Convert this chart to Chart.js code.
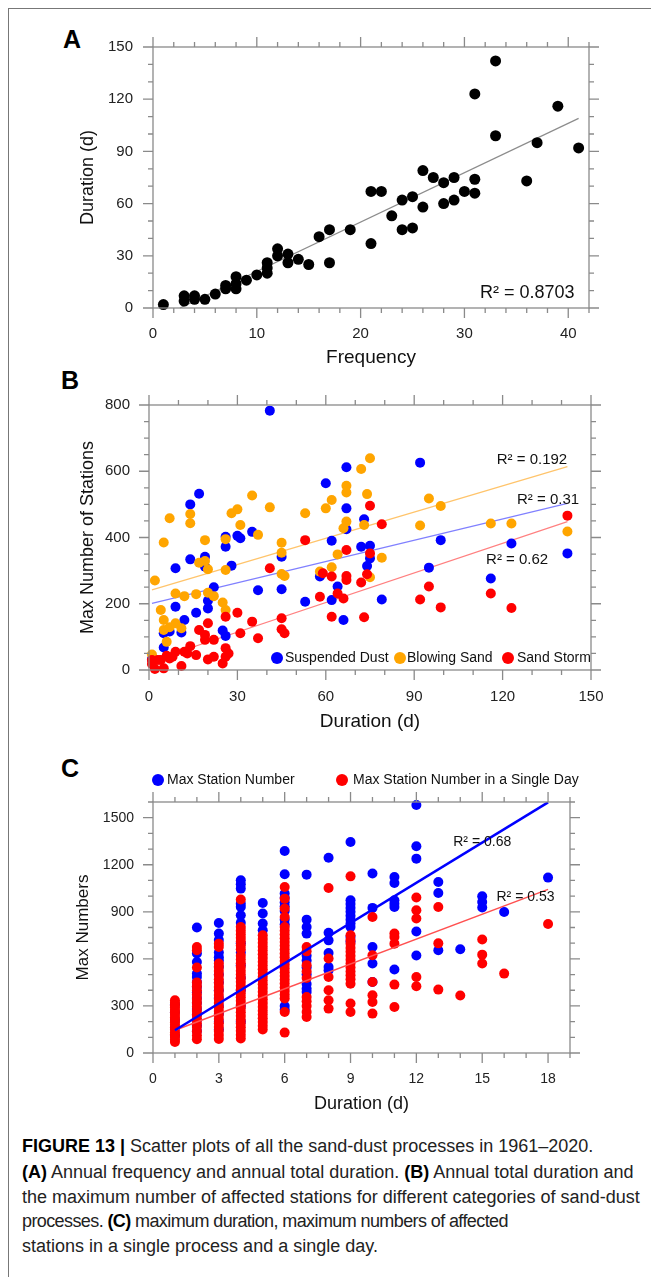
<!DOCTYPE html>
<html><head><meta charset="utf-8">
<script src="https://cdn.jsdelivr.net/npm/chart.js@4.4.1/dist/chart.umd.min.js"></script>
<style>
html,body{margin:0;padding:0;background:#fff;}
body{width:651px;height:1277px;position:relative;overflow:hidden;font-family:"Liberation Sans",Arial,sans-serif;}
canvas{position:absolute;left:0;}
.letter{position:absolute;font-weight:bold;font-size:25px;color:#000;line-height:25px;}
.btop{position:absolute;left:8px;top:8px;width:643px;height:0;border-top:1.5px solid #777;}
.bleft{position:absolute;left:8px;top:8px;width:0;height:1269px;border-left:1.5px solid #777;}
.cap{position:absolute;left:22px;font-family:"Liberation Sans Narrow","Liberation Sans",sans-serif;font-size:18px;color:#222;white-space:nowrap;line-height:25px;}
.cap b{color:#000;}
</style></head><body>
<div class="btop"></div><div class="bleft"></div>
<div class="letter" style="left:63px;top:27px">A</div>
<div class="letter" style="left:61px;top:368px">B</div>
<div class="letter" style="left:61px;top:756px">C</div>
<canvas id="cA" width="651" height="375" style="top:0"></canvas>
<canvas id="cB" width="651" height="370" style="top:375px"></canvas>
<canvas id="cC" width="651" height="380" style="top:745px"></canvas>
<div class="cap" style="top:1134px"><b>FIGURE 13 | </b>Scatter plots of all the sand-dust processes in 1961–2020.</div>
<div class="cap" style="top:1160px"><b>(A)</b> Annual frequency and annual total duration. <b>(B)</b> Annual total duration and</div>
<div class="cap" style="top:1185px">the maximum number of affected stations for different categories of sand-dust</div>
<div class="cap" style="top:1209px;letter-spacing:-0.6px">processes. <b>(C)</b> maximum duration, maximum numbers of affected</div>
<div class="cap" style="top:1234px">stations in a single process and a single day.</div>
<script>
// ---------- Panel A: annual frequency vs annual total duration ----------
const freqA = [1,3,3,4,4,5,6,7,7,8,8,8,9,10,11,11,11,12,12,13,13,14,15,16,17,17,19,21,21,22,23,24,24,25,25,26,26,27,28,28,29,29,30,31,31,31,33,33,36,37,39,41];
const durA  = [2,4,7,5,7,5,8,11,13,11,14,18,16,19,20,23,26,30,34,26,31,28,25,41,45,26,45,37,67,67,53,62,45,64,46,79,58,75,60,72,75,62,67,74,66,123,142,99,73,95,116,92];
const fitAx = [2.6, 41];
const fitAy = [0, 109];
const ticksAx = [0,10,20,30,40];
const ticksAy = [0,30,60,90,120,150];
const r2A = "R² = 0.8703";

// ---------- Panel B: annual total duration vs max number of stations ----------
const seriesB = ["Suspended Dust", "Blowing Sand", "Sand Storm"];
const sdDur = [1,5,5,7,9,9,11,12,14,14,16,17,19,19,20,20,22,25,26,26,26,28,30,31,35,37,41,45,45,53,58,60,62,62,64,66,67,67,67,72,73,74,75,75,79,92,95,99,116,123,142];
const sdMax = [32,68,111,116,191,307,113,151,334,500,173,532,342,312,209,186,250,119,103,402,372,315,405,398,417,241,783,342,244,206,282,564,390,211,252,151,612,488,425,372,455,314,375,337,213,626,309,392,276,382,352];
const bsDur = [1,2,4,5,5,5,6,7,7,9,9,11,12,14,14,16,17,19,19,20,20,22,25,26,26,26,28,30,31,35,37,41,45,45,45,46,53,58,60,62,62,64,66,67,67,67,72,73,74,75,75,79,92,95,99,116,123,142];
const bsMax = [47,270,181,151,121,385,85,129,458,231,141,126,223,471,443,229,324,392,329,304,233,223,204,181,395,302,473,485,438,527,408,491,384,354,290,284,473,297,488,513,310,349,428,556,536,448,607,438,531,639,280,339,436,518,495,442,442,418];
const ssDur = [1,1,2,3,4,5,6,7,8,9,11,12,13,14,16,17,19,19,20,20,22,22,25,26,26,26,27,30,31,35,37,41,45,45,46,53,58,59,62,62,64,66,67,67,67,72,73,74,75,75,79,92,95,99,116,123,142];
const ssMax = [18,30,3,30,30,5,43,35,40,55,12,55,50,72,45,121,106,91,141,32,91,40,20,161,66,40,50,173,111,146,96,307,156,123,111,392,221,292,282,161,231,216,362,284,272,264,159,289,496,352,440,213,252,189,231,187,466];
const fitBx = [1, 142];
const fitSd = [201, 503];
const fitBs = [242, 614];
const fitSs = [28, 448];
const ticksBx = [0,30,60,90,120,150];
const ticksBy = [0,200,400,600,800];
const r2B = ["R² = 0.31", "R² = 0.192", "R² = 0.62"];

// ---------- Panel C: maximum duration vs max numbers of stations ----------
const seriesC = ["Max Station Number", "Max Station Number in a Single Day"];
const durC = [1,2,3,4,5,6,7,8,9,10,11,12,13,14,15,16,18];
const maxStationC = [
  [110,160,210,260,310],
  [800,634,580,506,484,452,420,388,350,318,280,245,210,175,140],
  [829,761,720,640,610,590,550,500,450,400,350,300,250,200,150],
  [1101,1075,1048,952,931,878,830,700,640,560,480,400,300,200],
  [956,889,825,782],
  [1288,1139,1016,990,960,935,905,850,820,300,275],
  [1137,850,803,761,620,590,545,500,440,410,389],
  [1245,767,718,637,548,527],
  [1345,974,950,925,900,875,850,825,803,740,710],
  [1144,925,676,570,453],
  [1122,1084,973,952,931,532],
  [1581,1318,1239,774,621],
  [1090,1020,655],
  [661],
  [999,963,927],
  [899],
  [1118]
];
const maxDayC = [
  [70,85,102,118,131,149,163,180,196,211,228,243,259,274,290,305,321,336],
  [676,655,545,450,425,398,372,345,320,295,268,242,216,190,165,138,112,88],
  [697,676,570,548,522,497,470,446,420,395,370,344,318,292,268,242,216,190,165,140,114,90],
  [978,803,780,756,733,710,686,662,620,596,572,548,524,500,476,452,428,404,380,356,332,308,284,260,236,212,188,164,140,116,92],
  [750,726,702,678,654,630,606,582,558,534,510,486,462,438,414,390,366,342,318,294,270,246,222,198,174,150],
  [1058,984,921,867,803,779,755,731,707,683,659,635,611,587,563,539,515,491,467,443,419,395,371,348,261,130],
  [676,648,560,520,478,357,330,300,262,230],
  [1052,602,484,400,336,283],
  [1126,750,720,697,670,645,620,595,570,545,520,495,470,442,315,261],
  [867,623,453,368,325,251],
  [761,740,697,436,293],
  [991,910,857,484,425],
  [931,699,404],
  [366],
  [723,627,570],
  [506],
  [822]
];
const fitCx = [1, 18];
const fitCmax = [145, 1598];
const fitCday = [145, 1043];
const ticksCx = [0,3,6,9,12,15,18];
const ticksCy = [0,300,600,900,1200,1500];
const r2C = ["R² = 0.68", "R² = 0.53"];

// ---------- helpers ----------
const pts = (xs, ys) => xs.map((v, i) => ({x: v, y: ys[i]}));
const colPts = (xs, cols) => xs.flatMap((v, i) => cols[i].map(y => ({x: v, y})));
const FONT = "'Liberation Sans', Arial, sans-serif";
const AXIS = '#8a8a8a';

const framePlugin = {
  id: 'frame',
  afterDatasetsDraw(chart, args, o) {
    const {ctx, chartArea: a, scales: {x, y}} = chart;
    const list = (s, minor, major) => {
      const out = [], n = Math.round((s.max - s.min) / minor);
      for (let i = 0; i <= n; i++) {
        const v = s.min + i * minor, r = v / major;
        out.push({p: s.getPixelForValue(v), big: Math.abs(r - Math.round(r)) < 1e-6});
      }
      return out;
    };
    ctx.save();
    ctx.strokeStyle = AXIS; ctx.lineWidth = 1.3;
    ctx.strokeRect(a.left, a.top, a.right - a.left, a.bottom - a.top);
    ctx.beginPath();
    for (const t of list(x, o.xMinor, o.xMajor)) {
      const L = t.big ? 10 : 5;
      ctx.moveTo(t.p, a.bottom); ctx.lineTo(t.p, a.bottom + L);
      ctx.moveTo(t.p, a.top); ctx.lineTo(t.p, a.top - L);
    }
    for (const t of list(y, o.yMinor, o.yMajor)) {
      const L = t.big ? 10 : 5;
      ctx.moveTo(a.left, t.p); ctx.lineTo(a.left - L, t.p);
      ctx.moveTo(a.right, t.p); ctx.lineTo(a.right + L, t.p);
    }
    ctx.stroke();
    ctx.restore();
  }
};

const notesPlugin = {
  id: 'notes',
  afterDraw(chart, args, o) {
    const {ctx, scales: {x, y}} = chart;
    ctx.save();
    ctx.textBaseline = 'middle';
    for (const n of (o.items || [])) {
      ctx.font = n.font; ctx.fillStyle = '#111'; ctx.textAlign = n.align || 'left';
      ctx.fillText(n.text, x.getPixelForValue(n.x), y.getPixelForValue(n.y));
    }
    for (const it of (o.legend || [])) {
      const ds = chart.data.datasets[it.ds];
      ctx.beginPath(); ctx.arc(it.dotX, it.y, it.r, 0, 2 * Math.PI);
      ctx.fillStyle = ds.backgroundColor; ctx.fill();
      ctx.fillStyle = '#111'; ctx.font = it.font; ctx.textAlign = 'left';
      ctx.fillText(ds.label, it.textX, it.y);
    }
    ctx.restore();
  }
};

const useTicks = arr => s => { s.ticks = arr.map(v => ({value: v})); };

function axes(cfg) {
  return {
    x: {
      type: 'linear', min: cfg.xmin, max: cfg.xmax,
      afterBuildTicks: useTicks(cfg.xticks),
      afterFit: s => { s.height = cfg.xh; },
      grid: {display: false, drawTicks: false}, border: {display: false},
      ticks: {callback: v => String(v), padding: cfg.xpad, color: '#222', font: {family: FONT, size: cfg.tickSize}, maxRotation: 0, autoSkip: false},
      title: {display: true, text: cfg.xtitle, color: '#111', font: {family: FONT, size: cfg.xtSize}, padding: {top: 0, bottom: cfg.xtpad}}
    },
    y: {
      type: 'linear', min: cfg.ymin, max: cfg.ymax,
      afterBuildTicks: useTicks(cfg.yticks),
      afterFit: s => { s.width = cfg.yw; },
      grid: {display: false, drawTicks: false}, border: {display: false},
      ticks: {callback: v => String(v), padding: cfg.ypad, color: '#222', font: {family: FONT, size: cfg.tickSize}, autoSkip: false},
      title: {display: true, text: cfg.ytitle, color: '#111', font: {family: FONT, size: cfg.ytSize}, padding: {top: cfg.ytpad, bottom: 0}}
    }
  };
}

const base = {responsive: false, animation: false, events: []};

// Panel A
new Chart(document.getElementById('cA'), {
  type: 'scatter',
  data: {datasets: [
    {label: 'fit', data: pts(fitAx, fitAy), showLine: true, borderColor: '#8c8c8c', borderWidth: 1.2, pointRadius: 0, order: 5, clip: false},
    {label: 'A', data: pts(freqA, durA), backgroundColor: '#000', borderColor: '#000', borderWidth: 0, pointRadius: 5.5, order: 1, clip: false}
  ]},
  options: Object.assign({}, base, {
    layout: {padding: {left: 70, right: 62, top: 47, bottom: 0}},
    plugins: {legend: {display: false}, tooltip: {enabled: false},
      frame: {xMinor: 2, xMajor: 10, yMinor: 10, yMajor: 30},
      notes: {items: [{x: 40.6, y: 8.6, text: r2A, font: "18px " + FONT, align: 'right'}]}},
    scales: axes({xmin: 0, xmax: 42, xticks: ticksAx, ymin: 0, ymax: 150, yticks: ticksAy, xh: 67, yw: 83,
      xpad: 17, ypad: 20, tickSize: 15, xtitle: 'Frequency', ytitle: 'Duration (d)', xtSize: 19, ytSize: 18, xtpad: 6, ytpad: 7})
  }),
  plugins: [framePlugin, notesPlugin]
});

// Panel B
new Chart(document.getElementById('cB'), {
  type: 'scatter',
  data: {datasets: [
    {label: 'fitBs', data: pts(fitBx, fitBs), showLine: true, borderColor: '#ffc46b', borderWidth: 1.2, pointRadius: 0, order: 10},
    {label: 'fitSd', data: pts(fitBx, fitSd), showLine: true, borderColor: '#8080ff', borderWidth: 1.2, pointRadius: 0, order: 10},
    {label: 'fitSs', data: pts(fitBx, fitSs), showLine: true, borderColor: '#ff8080', borderWidth: 1.2, pointRadius: 0, order: 10},
    {label: seriesB[0], data: pts(sdDur, sdMax), backgroundColor: '#0000ff', borderWidth: 0, pointRadius: 5, order: 3, clip: false},
    {label: seriesB[1], data: pts(bsDur, bsMax), backgroundColor: '#ffa500', borderWidth: 0, pointRadius: 5, order: 2, clip: false},
    {label: seriesB[2], data: pts(ssDur, ssMax), backgroundColor: '#ff0000', borderWidth: 0, pointRadius: 5, order: 1, clip: false}
  ]},
  options: Object.assign({}, base, {
    layout: {padding: {left: 70, right: 60, top: 30, bottom: 0}},
    plugins: {legend: {display: false}, tooltip: {enabled: false},
      frame: {xMinor: 10, xMajor: 30, yMinor: 50, yMajor: 200},
      notes: {
        items: [
          {x: 118, y: 634, text: r2B[1], font: "15px " + FONT},
          {x: 124.9, y: 513, text: r2B[0], font: "15px " + FONT},
          {x: 114.4, y: 332, text: r2B[2], font: "15px " + FONT}
        ],
        legend: [
          {ds: 3, dotX: 277, textX: 285, y: 283, r: 6, font: "14px " + FONT},
          {ds: 4, dotX: 400, textX: 407, y: 283, r: 6, font: "14px " + FONT},
          {ds: 5, dotX: 508, textX: 517, y: 283, r: 6, font: "14px " + FONT}
        ]
      }},
    scales: axes({xmin: 0, xmax: 150, xticks: ticksBx, ymin: 0, ymax: 800, yticks: ticksBy, xh: 75, yw: 79,
      xpad: 18, ypad: 19, tickSize: 15, xtitle: 'Duration (d)', ytitle: 'Max Number of Stations', xtSize: 19, ytSize: 18, xtpad: 12, ytpad: 7})
  }),
  plugins: [framePlugin, notesPlugin]
});

// Panel C
new Chart(document.getElementById('cC'), {
  type: 'scatter',
  data: {datasets: [
    {label: 'fitMax', data: pts(fitCx, fitCmax), showLine: true, borderColor: '#0000ff', borderWidth: 2.5, pointRadius: 0, order: 0},
    {label: 'fitDay', data: pts(fitCx, fitCday), showLine: true, borderColor: '#ff5050', borderWidth: 1.5, pointRadius: 0, order: 0},
    {label: seriesC[0], data: colPts(durC, maxStationC), backgroundColor: '#0000ff', borderWidth: 0, pointRadius: 5, order: 3, clip: false},
    {label: seriesC[1], data: colPts(durC, maxDayC), backgroundColor: '#ff0000', borderWidth: 0, pointRadius: 5, order: 2, clip: false}
  ]},
  options: Object.assign({}, base, {
    layout: {padding: {left: 65, right: 81, top: 57, bottom: 0}},
    plugins: {legend: {display: false}, tooltip: {enabled: false},
      frame: {xMinor: 1, xMajor: 3, yMinor: 100, yMajor: 300},
      notes: {
        items: [
          {x: 13.68, y: 1343, text: r2C[0], font: "14px " + FONT},
          {x: 15.65, y: 993, text: r2C[1], font: "14px " + FONT}
        ],
        legend: [
          {ds: 2, dotX: 158, textX: 167, y: 35, r: 6, font: "14px " + FONT},
          {ds: 3, dotX: 342, textX: 353, y: 35, r: 6, font: "14px " + FONT}
        ]
      }},
    scales: axes({xmin: 0, xmax: 19, xticks: ticksCx, ymin: 0, ymax: 1600, yticks: ticksCy, xh: 72, yw: 88,
      xpad: 18, ypad: 19, tickSize: 14, xtitle: 'Duration (d)', ytitle: 'Max Numbers', xtSize: 18, ytSize: 17, xtpad: 10, ytpad: 8})
  }),
  plugins: [framePlugin, notesPlugin]
});
</script>
</body></html>
